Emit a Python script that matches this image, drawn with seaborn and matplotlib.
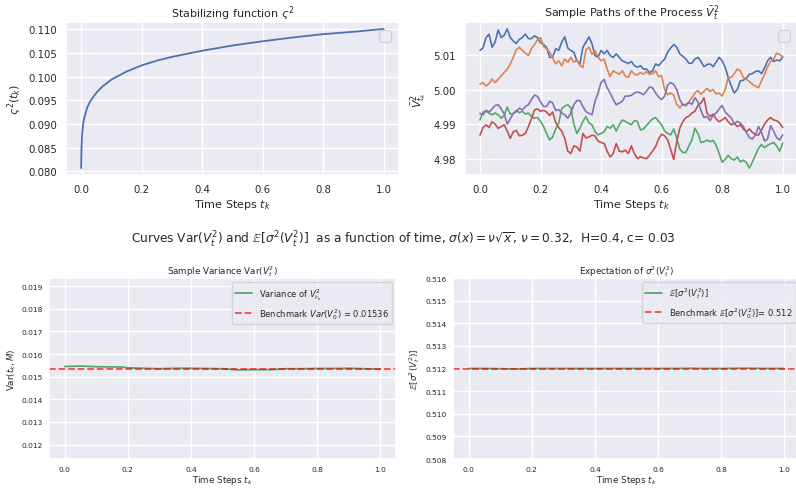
import numpy as np
import pandas as pd
import matplotlib
matplotlib.use("Agg")
import matplotlib.pyplot as plt
import seaborn as sns

# Stabilizing function
t_stab = [0.0, 0.001, 0.003, 0.006, 0.01, 0.02, 0.03, 0.05, 0.07, 0.1, 0.15, 0.2,
          0.25, 0.3, 0.4, 0.5, 0.6, 0.7, 0.8, 0.9, 1.0]
stab = [0.0807, 0.0845, 0.0875, 0.0897, 0.0912, 0.0935, 0.0948, 0.0966, 0.0979, 0.0994,
        0.1011, 0.1024, 0.1034, 0.1042, 0.1055, 0.1066, 0.1075, 0.1083, 0.1090, 0.1095, 0.1101]

# Sample paths of V_bar^2, read every 0.01
t_path = [round(0.01 * i, 2) for i in range(101)]
path_blue = [
    5.0113, 5.0120, 5.0150, 5.0160, 5.0122, 5.0137, 5.0172, 5.0150, 5.0157, 5.0175,
    5.0150, 5.0140, 5.0133, 5.0145, 5.0150, 5.0160, 5.0147, 5.0147, 5.0155, 5.0150,
    5.0135, 5.0130, 5.0122, 5.0093, 5.0093, 5.0118, 5.0113, 5.0137, 5.0152, 5.0120,
    5.0113, 5.0108, 5.0083, 5.0074, 5.0122, 5.0137, 5.0152, 5.0132, 5.0098, 5.0093,
    5.0113, 5.0103, 5.0113, 5.0098, 5.0093, 5.0103, 5.0093, 5.0083, 5.0079, 5.0075,
    5.0081, 5.0069, 5.0064, 5.0069, 5.0059, 5.0059, 5.0049, 5.0054, 5.0074, 5.0069,
    5.0079, 5.0088, 5.0108, 5.0120, 5.0130, 5.0122, 5.0103, 5.0096, 5.0088, 5.0076,
    5.0076, 5.0088, 5.0093, 5.0081, 5.0066, 5.0072, 5.0074, 5.0066, 5.0079, 5.0093,
    5.0083, 5.0064, 5.0035, 5.0010, 4.9990, 5.0000, 5.0025, 5.0027, 5.0033, 5.0044,
    5.0046, 5.0052, 5.0054, 5.0046, 5.0062, 5.0083, 5.0093, 5.0081, 5.0085, 5.0083, 5.0093]
path_orange = [
    5.0015, 5.0020, 5.0010, 5.0017, 5.0030, 5.0020, 5.0030, 5.0039, 5.0049, 5.0059,
    5.0074, 5.0093, 5.0115, 5.0122, 5.0113, 5.0105, 5.0098, 5.0118, 5.0130, 5.0144,
    5.0150, 5.0124, 5.0118, 5.0108, 5.0091, 5.0074, 5.0083, 5.0069, 5.0088, 5.0079,
    5.0093, 5.0079, 5.0085, 5.0069, 5.0064, 5.0115, 5.0122, 5.0101, 5.0113, 5.0093,
    5.0083, 5.0088, 5.0059, 5.0037, 5.0054, 5.0049, 5.0044, 5.0054, 5.0039, 5.0035,
    5.0054, 5.0044, 5.0042, 5.0049, 5.0044, 5.0052, 5.0044, 5.0046, 5.0054, 5.0037,
    5.0040, 5.0000, 4.9985, 4.9990, 4.9984, 4.9957, 4.9947, 4.9958, 4.9952, 4.9964,
    4.9976, 4.9990, 4.9997, 4.9986, 4.9995, 5.0003, 4.9995, 5.0000, 4.9987, 4.9990,
    4.9981, 5.0000, 5.0035, 5.0035, 5.0046, 5.0059, 5.0054, 5.0035, 5.0030, 5.0023,
    5.0015, 5.0010, 5.0005, 5.0025, 5.0044, 5.0066, 5.0081, 5.0088, 5.0105, 5.0101, 5.0095]
path_green = [
    4.9912, 4.9935, 4.9937, 4.9932, 4.9927, 4.9932, 4.9927, 4.9917, 4.9925, 4.9949,
    4.9929, 4.9931, 4.9939, 4.9933, 4.9937, 4.9929, 4.9932, 4.9922, 4.9917, 4.9919,
    4.9908, 4.9893, 4.9873, 4.9854, 4.9863, 4.9886, 4.9903, 4.9945, 4.9952, 4.9956,
    4.9947, 4.9900, 4.9873, 4.9888, 4.9908, 4.9922, 4.9903, 4.9898, 4.9878, 4.9869,
    4.9873, 4.9878, 4.9893, 4.9888, 4.9898, 4.9880, 4.9898, 4.9912, 4.9908, 4.9903,
    4.9898, 4.9910, 4.9908, 4.9883, 4.9886, 4.9896, 4.9906, 4.9915, 4.9919, 4.9908,
    4.9898, 4.9880, 4.9873, 4.9869, 4.9886, 4.9859, 4.9828, 4.9818, 4.9818, 4.9837,
    4.9854, 4.9888, 4.9873, 4.9847, 4.9849, 4.9854, 4.9849, 4.9853, 4.9839, 4.9815,
    4.9790, 4.9798, 4.9810, 4.9800, 4.9796, 4.9805, 4.9791, 4.9796, 4.9789, 4.9773,
    4.9791, 4.9810, 4.9830, 4.9841, 4.9832, 4.9839, 4.9843, 4.9847, 4.9837, 4.9822, 4.9845]
path_red = [
    4.9868, 4.9890, 4.9898, 4.9890, 4.9907, 4.9900, 4.9888, 4.9893, 4.9898, 4.9880,
    4.9859, 4.9878, 4.9882, 4.9866, 4.9868, 4.9873, 4.9893, 4.9915, 4.9941, 4.9944,
    4.9937, 4.9940, 4.9935, 4.9925, 4.9935, 4.9905, 4.9890, 4.9880, 4.9859, 4.9822,
    4.9815, 4.9837, 4.9834, 4.9822, 4.9873, 4.9860, 4.9863, 4.9868, 4.9866, 4.9851,
    4.9847, 4.9844, 4.9822, 4.9805, 4.9815, 4.9844, 4.9822, 4.9820, 4.9825, 4.9815,
    4.9837, 4.9815, 4.9800, 4.9806, 4.9802, 4.9800, 4.9810, 4.9822, 4.9835, 4.9857,
    4.9871, 4.9866, 4.9855, 4.9827, 4.9798, 4.9849, 4.9888, 4.9907, 4.9919, 4.9923,
    4.9932, 4.9937, 4.9954, 4.9961, 4.9976, 4.9932, 4.9922, 4.9929, 4.9915, 4.9907,
    4.9912, 4.9919, 4.9907, 4.9898, 4.9902, 4.9893, 4.9898, 4.9886, 4.9878, 4.9886,
    4.9876, 4.9870, 4.9868, 4.9883, 4.9900, 4.9912, 4.9919, 4.9912, 4.9910, 4.9903, 4.9890]
path_purple = [
    4.9931, 4.9927, 4.9940, 4.9935, 4.9944, 4.9954, 4.9956, 4.9944, 4.9929, 4.9900,
    4.9915, 4.9931, 4.9936, 4.9946, 4.9941, 4.9951, 4.9956, 4.9971, 4.9984, 4.9980,
    4.9964, 4.9951, 4.9951, 4.9966, 4.9961, 4.9939, 4.9942, 4.9932, 4.9927, 4.9917,
    4.9932, 4.9956, 4.9968, 4.9968, 4.9951, 4.9936, 4.9931, 4.9927, 4.9966, 4.9990,
    5.0020, 5.0029, 5.0005, 4.9990, 4.9971, 4.9956, 4.9961, 4.9966, 4.9981, 4.9981,
    4.9983, 4.9990, 4.9993, 4.9990, 4.9985, 4.9995, 5.0007, 5.0005, 4.9990, 4.9978,
    4.9971, 4.9981, 5.0013, 5.0020, 5.0015, 5.0000, 4.9971, 4.9955, 4.9957, 4.9962,
    4.9957, 4.9976, 4.9964, 4.9939, 4.9919, 4.9922, 4.9910, 4.9926, 4.9932, 4.9944,
    4.9954, 4.9935, 4.9926, 4.9918, 4.9900, 4.9908, 4.9903, 4.9893, 4.9876, 4.9861,
    4.9857, 4.9869, 4.9893, 4.9876, 4.9851, 4.9857, 4.9896, 4.9880, 4.9861, 4.9854, 4.9869]

# Sample variance and expectation curves
t_curve = [0.0, 0.05, 0.1, 0.15, 0.18, 0.2, 0.25, 0.3, 0.35, 0.4, 0.45, 0.5, 0.55,
           0.6, 0.65, 0.7, 0.75, 0.8, 0.85, 0.9, 0.95, 1.0]
variance = [0.01545, 0.01547, 0.01544, 0.01543, 0.01543, 0.01539, 0.01537, 0.01535, 0.01537,
            0.01537, 0.01536, 0.01535, 0.01530, 0.01531, 0.01531, 0.01535, 0.01535, 0.01536,
            0.01536, 0.01537, 0.01535, 0.01533]
expectation = [0.51200, 0.51200, 0.51199, 0.51198, 0.51199, 0.51200, 0.51200, 0.51200, 0.51200,
               0.51200, 0.51200, 0.51200, 0.51200, 0.51200, 0.51200, 0.51201, 0.51200, 0.51200,
               0.51201, 0.51201, 0.51200, 0.51200]
bench_var = 0.01536
bench_exp = 0.512

sns.set_theme(style="darkgrid")
pal = sns.color_palette("deep")

fig = plt.figure(figsize=(7.96, 4.89), dpi=100)
ax1 = fig.add_axes([0.0829, 0.640, 0.4183, 0.313])
ax2 = fig.add_axes([0.584, 0.640, 0.4183, 0.313])
ax3 = fig.add_axes([0.0616, 0.0593, 0.436, 0.370])
ax4 = fig.add_axes([0.569, 0.0593, 0.436, 0.370])

# top left
sns.lineplot(x=t_stab, y=stab, ax=ax1, color=pal[0], lw=1.3)
ax1.set_title(r"Stabilizing function $\varsigma^2$", fontsize=8, pad=4)
ax1.set_xlabel(r"Time Steps $t_k$", fontsize=8, labelpad=2)
ax1.set_ylabel(r"$\varsigma^2(t_k)$", fontsize=8, labelpad=3)
ax1.tick_params(axis="both", labelsize=7.3, length=0)
ax1.tick_params(axis="x", pad=6.5)
ax1.tick_params(axis="y", pad=6.5)
ax1.legend(handles=[], loc="upper right")

# top right
paths = [path_blue, path_orange, path_green, path_red, path_purple]
for i, p in enumerate(paths):
    sns.lineplot(x=t_path, y=p, ax=ax2, color=pal[i], lw=1.2)
ax2.set_title(r"Sample Paths of the Process $\bar{V}_t^2$", fontsize=8, pad=4)
ax2.set_xlabel(r"Time Steps $t_k$", fontsize=8, labelpad=2)
ax2.set_ylabel(r"$\bar{V}^2_{t_k}$", fontsize=8, labelpad=3)
ax2.tick_params(axis="both", labelsize=7.3, length=0)
ax2.tick_params(axis="x", pad=6.5)
ax2.tick_params(axis="y", pad=6.5)
ax2.legend(handles=[], loc="upper right")

fig.text(0.506, 0.509,
         r"Curves Var($V_t^2$) and $\mathbb{E}[\sigma^2(V_t^2)]$  as a function of time, "
         r"$\sigma(x) = \nu\sqrt{x}$, $\nu = 0.32$,  H=0.4, c= 0.03",
         ha="center", va="center", fontsize=8.7)

# bottom left
sns.lineplot(x=t_curve, y=variance, ax=ax3, color=pal[2], lw=1.3, label=r"Variance of $V^2_{t_k}$")
ax3.axhline(bench_var, color="red", ls="--", alpha=0.7, lw=1.3,
            label=r"Benchmark $Var(V_0^2)$ = %.5f" % bench_var)
ax3.set_ylim(bench_var - 0.004, bench_var + 0.004)
ax3.set_title(r"Sample Variance Var($V_t^2$)", fontsize=6.3, pad=3)
ax3.set_xlabel(r"Time Steps $t_k$", fontsize=6.3, labelpad=1)
ax3.set_ylabel(r"Var$(t_k, M)$", fontsize=6.3, labelpad=3)
ax3.tick_params(axis="both", labelsize=5.4, length=0)
ax3.tick_params(axis="x", pad=5)
ax3.tick_params(axis="y", pad=4.3)
ax3.legend(loc="upper right", fontsize=6)

# bottom right
sns.lineplot(x=t_curve, y=expectation, ax=ax4, color=pal[2], lw=1.3,
             label=r"$\mathbb{E}[\sigma^2(V_t^2)]$")
ax4.axhline(bench_exp, color="red", ls="--", alpha=0.7, lw=1.3,
            label=r"Benchmark $\mathbb{E}[\sigma^2(V_0^2)]$= %.3f" % bench_exp)
ax4.set_ylim(bench_exp - 0.004, bench_exp + 0.004)
ax4.set_title(r"Expectation of $\sigma^2(V_t^2)$", fontsize=6.3, pad=3)
ax4.set_xlabel(r"Time Steps $t_k$", fontsize=6.3, labelpad=1)
ax4.set_ylabel(r"$\mathbb{E}[\sigma^2(V_t^2)]$", fontsize=6.3, labelpad=3)
ax4.tick_params(axis="both", labelsize=5.4, length=0)
ax4.tick_params(axis="x", pad=5)
ax4.tick_params(axis="y", pad=4.3)
ax4.legend(loc="upper right", fontsize=6)

fig.savefig("out.png", dpi=100)
